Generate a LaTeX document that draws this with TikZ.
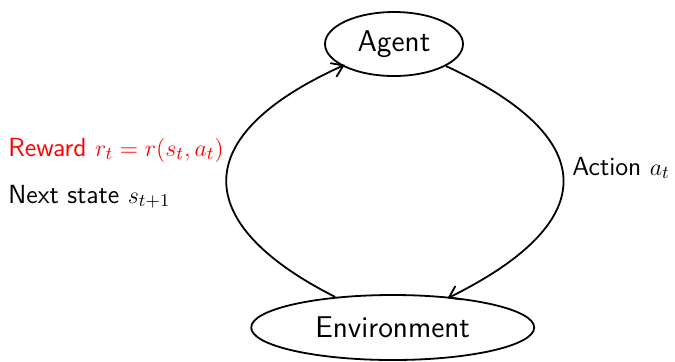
\documentclass[tikz,border=0pt]{standalone}
\usetikzlibrary{shapes.geometric,arrows.meta}
\begin{document}
\begin{tikzpicture}[x=0.5pt,y=-0.5pt,
  state/.style={ellipse, draw, line width=0.9pt, inner sep=0pt, font=\sffamily\fontsize{15}{18}\selectfont},
  lbl/.style={inner sep=0pt, anchor=base west, font=\sffamily\fontsize{13.1}{15}\selectfont},
  flow/.style={-{Straight Barb[length=5.5pt,width=7.5pt]}, line width=0.9pt, shorten >=-1.5pt}]
\useasboundingbox (0,0) rectangle (675,361);
\node[state, minimum width=69pt, minimum height=32pt] (agent) at (394,44) {Agent};
\node[state, minimum width=141.5pt, minimum height=32.5pt] (env) at (392.7,327.5) {Environment};
\draw[flow] (agent.-23) .. controls +(150,69) and +(158,-78) .. (env.28);
\draw[flow] (env.152.5) .. controls +(-144.5,-73) and +(-155.5,70) .. (agent.203);
\node[lbl, text=red] (reward) at (8,156) {Reward $r_t = r(s_t, a_t)$};
\node[lbl] (next) at (8,203) {Next state $s_{t+1}$};
\node[lbl] (action) at (572,175) {Action $a_t$};
\end{tikzpicture}
\end{document}
